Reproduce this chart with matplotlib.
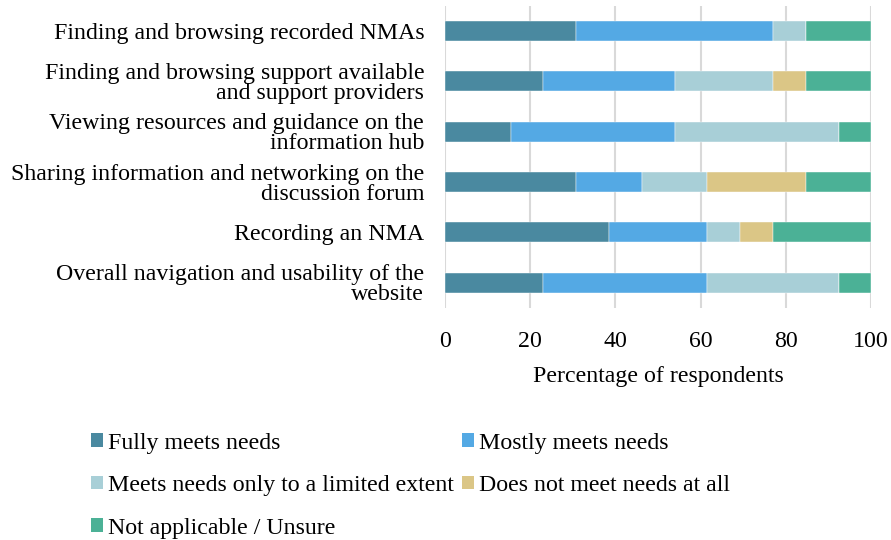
import matplotlib
matplotlib.use("Agg")
import matplotlib.pyplot as plt
from matplotlib.patches import Patch
import numpy as np

plt.rcParams['font.family'] = ['Liberation Serif', 'DejaVu Serif']

categories = [
    "Finding and browsing recorded NMAs",
    "Finding and browsing support available\nand support providers",
    "Viewing resources and guidance on the\ninformation hub",
    "Sharing information and networking on the\ndiscussion forum",
    "Recording an NMA",
    "Overall navigation and usability of the\nwebsite",
]
series_names = ["Fully meets needs", "Mostly meets needs",
                "Meets needs only to a limited extent",
                "Does not meet needs at all", "Not applicable / Unsure"]
fully = [30.8, 23.1, 15.4, 30.8, 38.5, 23.1]
mostly = [46.2, 30.8, 38.5, 15.4, 23.1, 38.5]
limited = [7.7, 23.1, 38.5, 15.4, 7.7, 30.8]
not_at_all = [0.0, 7.7, 0.0, 23.1, 7.7, 0.0]
not_applicable = [15.4, 15.4, 7.7, 15.4, 23.1, 7.7]
colors = ["#4A89A0", "#54A9E4", "#A8CFD7", "#DBC686", "#4BB196"]
xticks = [0, 20, 40, 60, 80, 100]

FS = 17.2

fig = plt.figure(figsize=(8.91, 5.40), dpi=100)
ax = fig.add_axes([0.4994, 0.430, 0.9776 - 0.4994, 0.989 - 0.430])

y = np.arange(len(categories))
left = np.zeros(len(categories))
handles = []
for name, vals, c in zip(series_names, [fully, mostly, limited, not_at_all, not_applicable], colors):
    vals = np.array(vals)
    ax.barh(y, vals, left=left, height=0.4, color=c, edgecolor='white', linewidth=0.3, zorder=3)
    left += vals
    handles.append(Patch(facecolor=c, edgecolor='none', label=name))

ax.set_ylim(len(categories) - 0.5, -0.5)
ax.set_xlim(0, 100)
ax.set_xticks(xticks)
ax.set_yticks(y)
ax.set_yticklabels(categories, fontsize=FS, linespacing=0.95)
ax.tick_params(axis='both', length=0)
ax.tick_params(axis='x', labelsize=FS, pad=17)
ax.tick_params(axis='y', pad=15)
for lbl in ax.get_yticklabels():
    lbl.set_horizontalalignment('right')
ax.grid(axis='x', color='#D9D9D9', linewidth=1.5, zorder=0)
for s in ax.spines.values():
    s.set_visible(False)
ax.set_xlabel("Percentage of respondents", fontsize=FS, labelpad=10)

order = [0, 2, 4, 1, 3]
fig.legend([handles[i] for i in order], [series_names[i] for i in order],
           ncol=2, loc='upper left', bbox_to_anchor=(0.102, 0.199),
           frameon=False, fontsize=FS, handlelength=0.5, handleheight=0.5,
           handletextpad=0.2, columnspacing=0.35, labelspacing=0.9,
           borderpad=0, borderaxespad=0)

fig.savefig("out.png", dpi=100)
